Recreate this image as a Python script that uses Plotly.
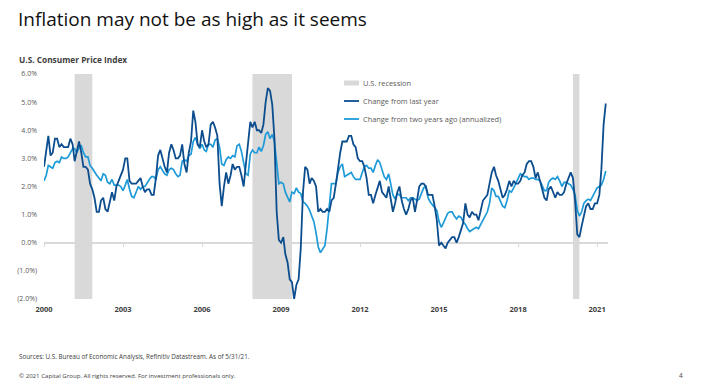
import pandas as pd
import plotly.graph_objects as go

# ---------------- data ----------------
start_month = "2000-01-01"

change_1yr = [
    # 2000
    2.7, 3.2, 3.8, 3.1, 3.2, 3.7, 3.7, 3.4, 3.5, 3.4, 3.4, 3.4,
    # 2001
    3.7, 3.5, 2.9, 3.3, 3.6, 3.2, 2.7, 2.7, 2.6, 2.1, 1.9, 1.6,
    # 2002
    1.1, 1.1, 1.5, 1.6, 1.2, 1.1, 1.5, 1.8, 1.5, 2.0, 2.2, 2.4,
    # 2003
    2.6, 3.0, 3.0, 2.2, 2.1, 2.1, 2.1, 2.2, 2.3, 2.0, 1.8, 1.9,
    # 2004
    1.9, 1.7, 1.7, 2.3, 3.1, 3.3, 3.0, 2.7, 2.5, 3.2, 3.5, 3.3,
    # 2005
    3.0, 3.0, 3.1, 3.5, 2.8, 2.5, 3.2, 3.6, 4.7, 4.3, 3.5, 3.4,
    # 2006
    4.0, 3.6, 3.4, 3.5, 4.2, 4.3, 4.1, 3.8, 2.1, 1.3, 2.0, 2.5,
    # 2007
    2.1, 2.4, 2.8, 2.6, 2.7, 2.7, 2.4, 2.0, 2.8, 3.5, 4.3, 4.1,
    # 2008
    4.3, 4.0, 4.0, 3.9, 4.2, 5.0, 5.5, 5.4, 4.9, 3.7, 1.1, 0.1,
    # 2009
    0.0, 0.2, -0.4, -0.7, -1.3, -1.4, -2.0, -1.5, -1.3, -0.2, 1.8, 2.7,
    # 2010
    2.6, 2.1, 2.3, 2.2, 2.0, 1.1, 1.2, 1.1, 1.1, 1.2, 1.1, 1.5,
    # 2011
    1.6, 2.1, 2.7, 3.2, 3.6, 3.6, 3.6, 3.8, 3.8, 3.5, 3.4, 3.0,
    # 2012
    2.9, 2.9, 2.7, 2.3, 1.7, 1.7, 1.4, 1.7, 2.0, 2.2, 1.8, 1.7,
    # 2013
    1.6, 2.0, 1.5, 1.1, 1.4, 1.8, 2.0, 1.5, 1.2, 1.0, 1.2, 1.5,
    # 2014
    1.6, 1.1, 1.5, 2.0, 2.1, 2.1, 2.0, 1.7, 1.7, 1.7, 1.3, 0.8,
    # 2015
    -0.1, 0.0, -0.1, -0.2, 0.0, 0.1, 0.2, 0.2, 0.0, 0.2, 0.5, 0.7,
    # 2016
    1.4, 1.0, 0.9, 1.1, 1.0, 1.0, 0.8, 1.1, 1.5, 1.6, 1.7, 2.1,
    # 2017
    2.5, 2.7, 2.4, 2.2, 1.9, 1.6, 1.7, 1.9, 2.2, 2.0, 2.2, 2.1,
    # 2018
    2.1, 2.2, 2.4, 2.5, 2.8, 2.9, 2.9, 2.7, 2.3, 2.5, 2.2, 1.9,
    # 2019
    1.6, 1.5, 1.9, 2.0, 1.8, 1.6, 1.8, 1.7, 1.7, 1.8, 2.1, 2.3,
    # 2020
    2.5, 2.3, 1.5, 0.3, 0.2, 0.6, 1.0, 1.3, 1.4, 1.2, 1.2, 1.4,
    # 2021
    1.4, 1.7, 2.6, 4.2, 4.95,
]

change_2yr = [
    # 2000
    2.2, 2.4, 2.75, 2.7, 2.65, 2.85, 2.9, 2.85, 3.05, 3.0, 3.0, 3.05,
    # 2001
    3.2, 3.35, 3.35, 3.2, 3.4, 3.45, 3.2, 3.05, 3.05, 2.75, 2.65, 2.5,
    # 2002
    2.4, 2.3, 2.2, 2.45, 2.4, 2.15, 2.1, 2.25, 2.05, 2.05, 2.05, 2.0,
    # 2003
    1.85, 2.05, 2.25, 1.9, 1.65, 1.6, 1.8, 2.0, 1.9, 2.0, 2.0, 2.15,
    # 2004
    2.25, 2.35, 2.35, 2.25, 2.6, 2.7, 2.55, 2.45, 2.4, 2.6, 2.65, 2.6,
    # 2005
    2.45, 2.35, 2.4, 2.9, 2.95, 2.9, 3.1, 3.15, 3.6, 3.75, 3.5, 3.35,
    # 2006
    3.5, 3.3, 3.25, 3.5, 3.5, 3.4, 3.65, 3.7, 3.4, 2.8, 2.75, 2.95,
    # 2007
    3.05, 3.0, 3.1, 3.05, 3.45, 3.5, 3.25, 2.9, 2.45, 2.4, 3.15, 3.3,
    # 2008
    3.2, 3.2, 3.4, 3.25, 3.45, 3.85, 3.95, 3.7, 3.85, 3.6, 2.7, 2.1,
    # 2009
    2.15, 2.1, 1.8, 1.6, 1.45, 1.8, 1.75, 1.95, 1.8, 1.75, 1.45, 1.4,
    # 2010
    1.3, 1.15, 0.95, 0.75, 0.35, -0.15, -0.35, -0.2, -0.1, 0.5, 1.45, 2.1,
    # 2011
    2.1, 2.1, 2.5, 2.7, 2.8, 2.35, 2.4, 2.45, 2.5, 2.35, 2.25, 2.25,
    # 2012
    2.25, 2.5, 2.7, 2.75, 2.65, 2.65, 2.5, 2.75, 2.95, 2.85, 2.6, 2.35,
    # 2013
    2.25, 2.45, 2.1, 1.7, 1.55, 1.75, 1.7, 1.6, 1.6, 1.6, 1.5, 1.6,
    # 2014
    1.6, 1.55, 1.5, 1.55, 1.75, 1.95, 2.0, 1.6, 1.45, 1.35, 1.25, 1.15,
    # 2015
    0.75, 0.55, 0.7, 0.9, 1.05, 1.1, 1.1, 0.95, 0.85, 0.95, 0.9, 0.75,
    # 2016
    0.65, 0.5, 0.4, 0.45, 0.5, 0.55, 0.5, 0.65, 0.75, 0.9, 1.1, 1.4,
    # 2017
    1.95, 1.85, 1.65, 1.65, 1.45, 1.3, 1.25, 1.5, 1.85, 1.8, 1.95, 2.1,
    # 2018
    2.3, 2.45, 2.4, 2.35, 2.35, 2.25, 2.3, 2.3, 2.25, 2.25, 2.2, 2.0,
    # 2019
    1.85, 1.85, 2.15, 2.25, 2.3, 2.25, 2.35, 2.2, 2.0, 2.15, 2.15, 2.1,
    # 2020
    2.05, 1.9, 1.7, 1.15, 0.95, 1.1, 1.4, 1.5, 1.55, 1.5, 1.65, 1.85,
    # 2021
    1.95, 2.0, 2.05, 2.25, 2.55,
]

recession_starts = ["2001-03-01", "2007-12-01", "2020-02-01"]
recession_ends = ["2001-11-01", "2009-06-01", "2020-05-01"]

year_ticks = ["2000-01-01", "2003-01-01", "2006-01-01", "2009-01-01",
              "2012-01-01", "2015-01-01", "2018-01-01", "2021-01-01"]
year_labels = ["2000", "2003", "2006", "2009", "2012", "2015", "2018", "2021"]

y_ticks = [-2, -1, 0, 1, 2, 3, 4, 5, 6]
y_labels = ["(2.0%)", "(1.0%)", "0.0%", "1.0%", "2.0%", "3.0%", "4.0%", "5.0%", "6.0%"]

legend_labels = ["U.S. recession", "Change from last year",
                 "Change from two years ago (annualized)"]

title_text = "Inflation may not be as high as it seems"
subtitle_text = "U.S. Consumer Price Index"
source_text = "Sources: U.S. Bureau of Economic Analysis, Refinitiv Datastream. As of 5/31/21."
copyright_text = "© 2021 Capital Group. All rights reserved. For investment professionals only."
page_number = "4"

# ---------------- styling ----------------
DARK = "#0c4d8e"
LIGHT = "#1e9ad8"
GREY = "#d9d9d9"
FONT = "Open Sans"

dates = pd.date_range(start_month, periods=len(change_1yr), freq="MS")

fig = go.Figure()
fig.add_trace(go.Scatter(x=dates, y=change_2yr, mode="lines",
                         line=dict(color=LIGHT, width=1.7),
                         name=legend_labels[2], showlegend=False))
fig.add_trace(go.Scatter(x=dates, y=change_1yr, mode="lines",
                         line=dict(color=DARK, width=1.8),
                         name=legend_labels[1], showlegend=False))
# invisible trace on the overlay axis (zero line with ticks)
fig.add_trace(go.Scatter(x=[dates[0]], y=[0], xaxis="x2", mode="markers",
                         marker=dict(opacity=0), showlegend=False,
                         hoverinfo="skip"))

shapes = []
for s, e in zip(recession_starts, recession_ends):
    shapes.append(dict(type="rect", xref="x", yref="paper", x0=s, x1=e,
                       y0=0, y1=1, fillcolor=GREY, line=dict(width=0),
                       layer="below"))

# manual legend (pixel positions in the page)
lx0, lx1 = 344, 359
ly = [83, 101, 119]
W, H = 710, 390
ml, mr, mt, mb = 44, 102, 74, 91
pw, ph = W - ml - mr, H - mt - mb


def px(x):
    return (x - ml) / pw


def py(y):
    return 1 - (y - mt) / ph


shapes.append(dict(type="rect", xref="paper", yref="paper",
                   x0=px(lx0), x1=px(lx1), y0=py(ly[0] + 2.5), y1=py(ly[0] - 2.5),
                   fillcolor=GREY, line=dict(width=0)))
shapes.append(dict(type="line", xref="paper", yref="paper",
                   x0=px(lx0), x1=px(lx1), y0=py(ly[1]), y1=py(ly[1]),
                   line=dict(color=DARK, width=1.8)))
shapes.append(dict(type="line", xref="paper", yref="paper",
                   x0=px(lx0), x1=px(lx1), y0=py(ly[2]), y1=py(ly[2]),
                   line=dict(color=LIGHT, width=1.8)))

annotations = []
for lab, yy in zip(legend_labels, ly):
    annotations.append(dict(text=lab, xref="paper", yref="paper",
                            x=px(361), y=py(yy), xanchor="left", yanchor="middle",
                            showarrow=False,
                            font=dict(family=FONT, size=7.4, color="#5a5a5a")))

annotations += [
    dict(text=title_text, xref="paper", yref="paper", x=px(16), y=py(19),
         xanchor="left", yanchor="middle", showarrow=False,
         font=dict(family=FONT, size=19, color="#111111", weight=500)),
    dict(text="<b>" + subtitle_text + "</b>", xref="paper", yref="paper",
         x=px(17), y=py(59), xanchor="left", yanchor="middle", showarrow=False,
         font=dict(family=FONT, size=8.3, color="#404040")),
    dict(text=source_text, xref="paper", yref="paper", x=px(17), y=py(356),
         xanchor="left", yanchor="middle", showarrow=False,
         font=dict(family=FONT, size=6.3, color="#404040")),
    dict(text=copyright_text, xref="paper", yref="paper", x=px(17), y=py(375),
         xanchor="left", yanchor="middle", showarrow=False,
         font=dict(family=FONT, size=6.1, color="#404040")),
    dict(text=page_number, xref="paper", yref="paper", x=px(681), y=py(375),
         xanchor="center", yanchor="middle", showarrow=False,
         font=dict(family=FONT, size=6.5, color="#404040")),
]

fig.update_layout(
    width=W, height=H,
    margin=dict(l=ml, r=mr, t=mt, b=mb, pad=0),
    paper_bgcolor="white", plot_bgcolor="white",
    showlegend=False,
    shapes=shapes,
    annotations=annotations,
    xaxis=dict(type="date", range=["2000-01-01", "2021-06-01"],
               tickvals=year_ticks, ticktext=["<b>%s</b>" % t for t in year_labels],
               showgrid=False, zeroline=False, showline=False, ticks="",
               tickfont=dict(family=FONT, size=7.5, color="#404040"),
               ticklabelstandoff=4),
    xaxis2=dict(type="date", overlaying="x", matches="x", anchor="free",
                position=0.25, side="bottom", layer="below traces",
                tickvals=year_ticks, showticklabels=False,
                showgrid=False, zeroline=False,
                showline=True, linecolor=GREY, linewidth=1.5,
                ticks="outside", ticklen=3, tickwidth=1, tickcolor=GREY),
    yaxis=dict(range=[-2, 6], tickvals=y_ticks, ticktext=y_labels,
               showgrid=False, zeroline=False, showline=False, ticks="",
               tickfont=dict(family=FONT, size=7, color="#5a5a5a"),
               ticklabelstandoff=6),
    hovermode=False,
)

fig.write_html("out.html", config={"displayModeBar": False},
               post_script="document.body.style.margin='0';")
